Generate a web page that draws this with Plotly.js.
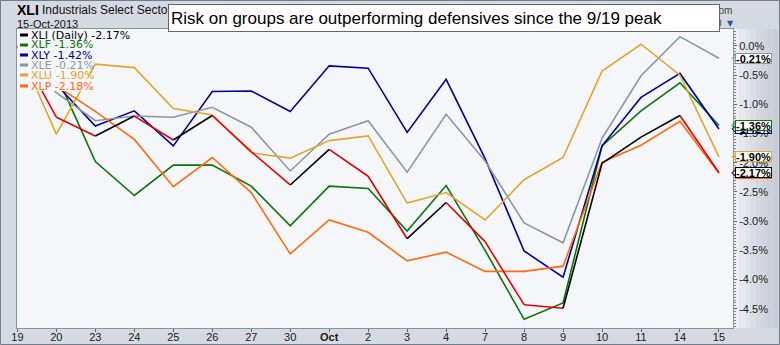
<!DOCTYPE html>
<html>
<head>
<meta charset="utf-8">
<script src="https://cdn.plot.ly/plotly-3.0.1.min.js"></script>
<style>html,body{margin:0;padding:0;background:#d5d9e1;}#chart{width:780px;height:345px;}</style>
</head>
<body>
<div id="chart"></div>
<script>
// ---- data (percent change since 19-Sep-2013) ----
const dates = ['19','20','23','24','25','26','27','30','Oct','2','3','4','7','8','9','10','11','14','15'];
const xli = [0,-1.22,-1.54,-1.20,-1.61,-1.19,-1.81,-2.38,-1.77,-2.23,-3.30,-2.68,-3.35,-4.43,-4.49,-2.01,-1.56,-1.19,-2.17];
const xlf = [0,-0.49,-1.98,-2.56,-2.04,-2.04,-2.40,-3.08,-2.40,-2.44,-3.17,-2.39,-3.50,-4.68,-4.40,-1.71,-1.11,-0.63,-1.36];
const xly = [0,-0.66,-1.37,-1.11,-1.71,-0.78,-0.77,-1.12,-0.34,-0.38,-1.48,-0.57,-1.93,-3.51,-3.96,-1.71,-0.88,-0.47,-1.42];
const xle = [0,-0.80,-1.28,-1.20,-1.22,-1.05,-1.39,-2.14,-1.51,-1.28,-2.16,-1.17,-1.97,-3.03,-3.37,-1.58,-0.51,0.16,-0.21];
const xlu = [0,-1.51,-0.31,-0.37,-1.07,-1.18,-1.83,-1.92,-1.62,-1.54,-2.69,-2.51,-2.98,-2.29,-1.91,-0.43,0.03,-0.50,-1.90];
const xlp = [0,-0.68,-1.12,-1.60,-2.41,-1.91,-2.51,-3.56,-2.98,-3.19,-3.68,-3.53,-3.86,-3.86,-3.77,-1.99,-1.70,-1.29,-2.18];
const yTickVals = [0,-0.5,-1,-1.5,-2,-2.5,-3,-3.5,-4,-4.5];
const yTickText = ['0.0%','-0.5%','-1.0%','-1.5%','-2.0%','-2.5%','-3.0%','-3.5%','-4.0%','-4.5%'];
const titleText = 'Risk on groups are outperforming defensives since the 9/19 peak';

const UP = '#000000', DOWN = '#e60000';
const series = [
  {name:'XLF', y:xlf, color:'#0b740b'},
  {name:'XLY', y:xly, color:'#000095'},
  {name:'XLE', y:xle, color:'#8b979f'},
  {name:'XLU', y:xlu, color:'#e2a62c'},
  {name:'XLP', y:xlp, color:'#ff6a0d'}
];
const idx = dates.map((d,i)=>i);
const traces = [];
series.forEach(s=>{
  traces.push({x:idx, y:s.y, type:'scatter', mode:'lines', line:{color:s.color, width:1.6}, showlegend:false, hoverinfo:'skip'});
});
for (let i=0;i<xli.length-1;i++){
  traces.push({x:[i,i+1], y:[xli[i],xli[i+1]], type:'scatter', mode:'lines',
    line:{color: xli[i+1]>=xli[i]?UP:DOWN, width:1.6}, showlegend:false, hoverinfo:'skip'});
}

// pixel helpers for paper coordinates
const L=17, R=47, T=29, B=17, W=780-L-R, H=345-T-B;
const px = X => (X-L)/W;
const py = Y => (345-B-Y)/H;
const fmt = v => (v>0?'+':'')+v.toFixed(2)+'%';
const last = a => a[a.length-1];

const annotations = [];
const shapes = [];
// right-axis band gradient
const bandCols = ['#eceef2','#e6e8ed','#e0e3e9','#dadde4','#d5d8e0','#d0d4dc','#ccd0d8','#c8ccd5'];
for (let k=0;k<bandCols.length;k++){
  const x0 = 734 + k*(44/bandCols.length), x1 = 734 + (k+1)*(44/bandCols.length);
  shapes.push({type:'rect', xref:'paper', yref:'paper', x0:px(x0), x1:px(x1), y0:0, y1:1, fillcolor:bandCols[k], line:{width:0}, layer:'below'});
}
// outer frame
shapes.push({type:'rect', xref:'paper', yref:'paper', x0:px(0.5), x1:px(779.5), y0:py(344.5), y1:py(0.5), line:{color:'#6f7d8c', width:1}, layer:'below'});

// header
annotations.push({xref:'paper', yref:'paper', x:px(15), y:py(10), xanchor:'left', yanchor:'middle', showarrow:false,
  text:'<b>XLI</b>', font:{family:'Liberation Sans, Arial', size:14, color:'#000'}});
annotations.push({xref:'paper', yref:'paper', x:px(40), y:py(10), xanchor:'left', yanchor:'middle', showarrow:false,
  text:'Industrials Select Sector SPDR Fund', font:{family:'Liberation Sans, Arial', size:12, color:'#111'}});
annotations.push({xref:'paper', yref:'paper', x:px(15), y:py(24), xanchor:'left', yanchor:'middle', showarrow:false,
  text:'15-Oct-2013', font:{family:'Liberation Sans, Arial', size:11, color:'#111'}});
annotations.push({xref:'paper', yref:'paper', x:px(734), y:py(10), xanchor:'right', yanchor:'middle', showarrow:false,
  text:'© StockCharts.com', font:{family:'Liberation Sans, Arial', size:10, color:'#444'}});
annotations.push({xref:'paper', yref:'paper', x:px(724), y:py(23), xanchor:'right', yanchor:'middle', showarrow:false,
  text:'0', font:{family:'Liberation Sans, Arial', size:10, color:'#444'}});
annotations.push({xref:'paper', yref:'paper', x:px(730), y:py(23), xanchor:'center', yanchor:'middle', showarrow:false,
  text:'▼', font:{family:'DejaVu Sans', size:8, color:'#2f5a96'}});
// title box
annotations.push({xref:'paper', yref:'paper', x:px(168), y:py(4), xanchor:'left', yanchor:'top', showarrow:false,
  text:titleText, align:'left', width:546, height:22, borderpad:2, bgcolor:'#ffffff', bordercolor:'#666', borderwidth:1,
  font:{family:'Liberation Sans, Arial', size:17, color:'#000'}});

// legend backing (hides lines under the legend text)
shapes.push({type:'rect', xref:'paper', yref:'paper', x0:px(17.5), x1:px(134), y0:py(41), y1:py(29.5), fillcolor:'#f5f6fa', line:{width:0}, layer:'above'});
shapes.push({type:'rect', xref:'paper', yref:'paper', x0:px(17.5), x1:px(88), y0:py(91), y1:py(41), fillcolor:'#f5f6fa', line:{width:0}, layer:'above'});
// legend rows
const legendRows = [{label:'XLI (Daily) '+fmt(last(xli)), color:'#000'}].concat(series.map(s=>({label:s.name+' '+fmt(last(s.y)), color:s.color})));
const rowY = [35,45,55,65,75,86];
legendRows.forEach((r,k)=>{
  annotations.push({xref:'paper', yref:'paper', x:px(30), y:py(rowY[k]), xanchor:'left', yanchor:'middle', showarrow:false,
    text:r.label, borderpad:0, font:{family:'DejaVu Sans', size:11, color:r.color}});
  shapes.push({type:'line', xref:'paper', yref:'paper', x0:px(20), x1:px(28), y0:py(rowY[k]), y1:py(rowY[k]), line:{color:r.color, width:3}, layer:'above'});
});

// right value tags (drawn in this order so later ones cover earlier)
const tags = [
  {v:last(xle), color:'#8b979f'},
  {v:last(xly), color:'#000095'},
  {v:last(xlf), color:'#0b740b'},
  {v:last(xlu), color:'#e2a62c'},
  {v:last(xlp), color:'#ff6a0d'},
  {v:last(xli), color:'#000000'}
];
tags.forEach(t=>{
  annotations.push({xref:'paper', yref:'y', x:px(735), y:t.v, xanchor:'left', yanchor:'middle', showarrow:false,
    text:'<b>'+t.v.toFixed(2)+'%</b>', height:9, borderpad:0, bgcolor:'#ffffff', bordercolor:t.color, borderwidth:1,
    font:{family:'Liberation Sans, Arial', size:11, color:'#000'}});
  shapes.push({type:'path', xref:'paper', yref:'y', xsizemode:'pixel', ysizemode:'pixel', xanchor:1, yanchor:t.v,
    path:'M 3,4 L -1,0 L 3,-4', line:{color:t.color, width:1}, layer:'above'});
});

const layout = {
  width:780, height:345,
  margin:{l:L, r:R, t:T, b:B},
  paper_bgcolor:'#d5d9e1', plot_bgcolor:'#f5f6fa',
  showlegend:false,
  xaxis:{range:[-0.01,18.36], tickvals:idx, ticktext:dates.map(d=>d==='Oct'?'<b>Oct</b>':d),
    showgrid:false, zeroline:false, ticks:'outside', ticklen:3, tickcolor:'#666', ticklabelstandoff:-4,
    showline:true, mirror:true, linecolor:'#8a949f', linewidth:1,
    tickfont:{family:'Liberation Sans, Arial', size:11, color:'#222'}},
  yaxis:{side:'right', range:[-4.829,0.291], tickvals:yTickVals, ticktext:yTickText,
    showgrid:false, zeroline:false, ticks:'outside', ticklen:3, tickcolor:'#666',
    minor:{dtick:0.05, ticks:'outside', ticklen:2, tickcolor:'#888'},
    showline:true, mirror:true, linecolor:'#8a949f', linewidth:1,
    tickfont:{family:'Liberation Sans, Arial', size:11, color:'#222'}},
  annotations:annotations,
  shapes:shapes
};
Plotly.newPlot('chart', traces, layout, {staticPlot:true});
</script>
</body>
</html>
